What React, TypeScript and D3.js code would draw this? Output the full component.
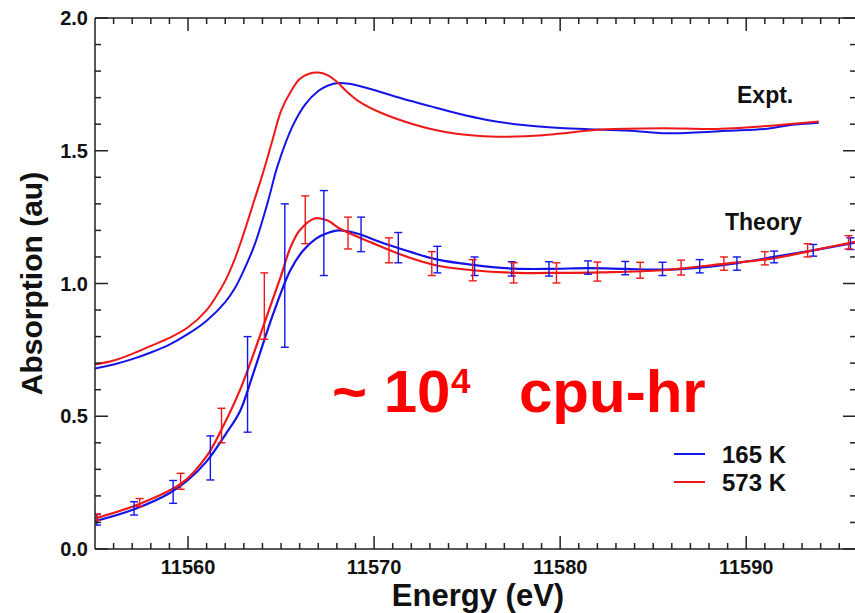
import React from "react";
import * as d3 from "d3";

// ---------- data ----------
const exptBlueE = [11555, 11556, 11557, 11558, 11559, 11560, 11561, 11562, 11562.5, 11563, 11563.6, 11564.3, 11564.8, 11565.6, 11566.3, 11567, 11567.5, 11568.1, 11569, 11570.3, 11571.5, 11573, 11574.5, 11576, 11578, 11580, 11582, 11584, 11585.5, 11587, 11589, 11591, 11592.3, 11593.9];
const exptBlueV = [0.68, 0.695, 0.715, 0.74, 0.77, 0.81, 0.86, 0.93, 0.98, 1.05, 1.15, 1.31, 1.44, 1.59, 1.675, 1.725, 1.745, 1.755, 1.748, 1.722, 1.697, 1.668, 1.64, 1.617, 1.597, 1.586, 1.58, 1.574, 1.566, 1.568, 1.575, 1.582, 1.596, 1.605];

const exptRedE = [11555, 11556, 11557, 11558, 11559, 11560, 11561, 11561.5, 11562, 11562.5, 11563, 11563.5, 11564, 11564.5, 11565, 11565.5, 11566, 11566.5, 11567, 11567.5, 11568, 11568.5, 11569.2, 11570.3, 11572.1, 11573.9, 11576.6, 11579.3, 11582.2, 11585.5, 11588.2, 11590.9, 11593.9];
const exptRedV = [0.695, 0.71, 0.735, 0.765, 0.795, 0.835, 0.9, 0.95, 1.01, 1.09, 1.19, 1.3, 1.41, 1.53, 1.65, 1.72, 1.77, 1.79, 1.795, 1.785, 1.76, 1.725, 1.685, 1.645, 1.6, 1.57, 1.553, 1.56, 1.58, 1.585, 1.582, 1.592, 1.61];

const theoBlueE = [11555, 11557, 11559, 11560, 11561, 11562, 11562.8, 11563.5, 11564.6, 11565.5, 11566.2, 11566.9, 11567.5, 11568.1, 11569, 11570, 11571, 11572, 11573.3, 11575.3, 11577.5, 11579.5, 11581.5, 11583.5, 11585.5, 11587.5, 11589.5, 11591.5, 11593.6, 11595.9];
const theoBlueV = [0.105, 0.147, 0.21, 0.26, 0.33, 0.43, 0.52, 0.66, 0.89, 1.05, 1.125, 1.17, 1.19, 1.2, 1.19, 1.165, 1.14, 1.118, 1.092, 1.07, 1.056, 1.055, 1.058, 1.055, 1.052, 1.06, 1.077, 1.1, 1.125, 1.155];

const theoRedE = [11555, 11557.4, 11559.7, 11561, 11561.8, 11562.8, 11564.2, 11565, 11565.5, 11566, 11566.8, 11567.5, 11568.2, 11569.9, 11571.8, 11573.5, 11575.3, 11577.7, 11580, 11582.2, 11585.5, 11588.9, 11591.3, 11593.6, 11595.9];
const theoRedV = [0.115, 0.17, 0.25, 0.35, 0.45, 0.6, 0.87, 1.03, 1.135, 1.2, 1.245, 1.237, 1.205, 1.153, 1.1, 1.066, 1.05, 1.04, 1.04, 1.042, 1.05, 1.075, 1.093, 1.125, 1.158];

const barBlueE = [11555.1, 11557.1, 11559.2, 11561.2, 11563.2, 11565.2, 11567.3, 11569.3, 11571.3, 11573.4, 11575.4, 11577.4, 11579.4, 11581.5, 11583.5, 11585.5, 11587.5, 11589.5, 11591.5, 11593.6, 11595.6];
const barBlueV = [0.11, 0.153, 0.215, 0.343, 0.62, 1.03, 1.19, 1.185, 1.135, 1.09, 1.065, 1.055, 1.055, 1.06, 1.058, 1.055, 1.065, 1.075, 1.1, 1.125, 1.15];
const barBlueErr = [0.02, 0.025, 0.043, 0.083, 0.18, 0.27, 0.16, 0.065, 0.057, 0.05, 0.035, 0.027, 0.027, 0.025, 0.025, 0.025, 0.025, 0.025, 0.022, 0.022, 0.022];

const barRedE = [11555.1, 11557.4, 11559.6, 11561.8, 11564.1, 11566.3, 11568.6, 11570.8, 11573.1, 11575.3, 11577.5, 11579.8, 11582.0, 11584.3, 11586.5, 11588.8, 11591.0, 11593.3, 11595.5];
const barRedV = [0.12, 0.175, 0.255, 0.465, 0.915, 1.24, 1.19, 1.125, 1.075, 1.05, 1.04, 1.04, 1.045, 1.05, 1.06, 1.075, 1.095, 1.125, 1.155];
const barRedErr = [0.012, 0.015, 0.03, 0.065, 0.125, 0.09, 0.06, 0.047, 0.045, 0.04, 0.038, 0.038, 0.036, 0.03, 0.028, 0.025, 0.025, 0.025, 0.025];

const xMajorTicks = [11560, 11570, 11580, 11590];
const yMajorTicks = [0, 0.5, 1.0, 1.5, 2.0];
const legendLabels = ["165 K", "573 K"];

// ---------- layout ----------
const W = 855;
const H = 613;
const BLUE = "#1414e6";
const RED = "#ee1818";
const FONT = "'Liberation Sans', Arial, Helvetica, sans-serif";

export default function App() {
  const x = d3.scaleLinear().domain([11555, 11595.9]).range([95, 856]);
  const y = d3.scaleLinear().domain([0, 2]).range([549, 18]);
  const line = d3
    .line<[number, number]>()
    .x((d) => x(d[0]))
    .y((d) => y(d[1]))
    .curve(d3.curveCatmullRom.alpha(0.5));
  const zip = (a: number[], b: number[]) => a.map((v, i) => [v, b[i]] as [number, number]);

  const x0 = x.range()[0];
  const x1 = x.range()[1];
  const y0 = y.range()[0];
  const y1 = y.range()[1];

  const xMinor = d3.range(11556, 11596, 1).filter((v) => v % 10 !== 0);
  const yMinor = d3.range(1, 20).map((v) => v / 10).filter((v) => Math.round(v * 10) % 5 !== 0);

  const bars = (E: number[], V: number[], Err: number[], color: string) =>
    E.map((e, i) => {
      const cx = x(e);
      const top = y(V[i] + Err[i]);
      const bot = y(V[i] - Err[i]);
      return (
        <g key={color + i} stroke={color} strokeWidth={1.4}>
          <line x1={cx} x2={cx} y1={top} y2={bot} />
          <line x1={cx - 4} x2={cx + 4} y1={top} y2={top} />
          <line x1={cx - 4} x2={cx + 4} y1={bot} y2={bot} />
        </g>
      );
    });

  const axisColor = "#222";

  return (
    <svg
      width={W}
      height={H}
      style={{ position: "absolute", left: 0, top: 0, background: "#fff" }}
      fontFamily={FONT}
    >
      <defs>
        <clipPath id="plot">
          <rect x={x0} y={y1} width={x1 - x0} height={y0 - y1} />
        </clipPath>
      </defs>
      <rect x={0} y={0} width={W} height={H} fill="#fff" />

      <g clipPath="url(#plot)" fill="none">
        <path d={line(zip(exptBlueE, exptBlueV)) || ""} stroke={BLUE} strokeWidth={2} />
        <path d={line(zip(exptRedE, exptRedV)) || ""} stroke={RED} strokeWidth={2} />
        <path d={line(zip(theoBlueE, theoBlueV)) || ""} stroke={BLUE} strokeWidth={2.2} />
        <path d={line(zip(theoRedE, theoRedV)) || ""} stroke={RED} strokeWidth={2.2} />
        {bars(barBlueE, barBlueV, barBlueErr, BLUE)}
        {bars(barRedE, barRedV, barRedErr, RED)}
      </g>

      {/* axes frame */}
      <g stroke={axisColor} strokeWidth={1.5} fill="none">
        <line x1={x0} x2={x1} y1={y0} y2={y0} />
        <line x1={x0} x2={x1} y1={y1} y2={y1} />
        <line x1={x0} x2={x0} y1={y0} y2={y1} />
        <line x1={x1} x2={x1} y1={y0} y2={y1} />
        {xMajorTicks.map((t) => (
          <g key={"xm" + t}>
            <line x1={x(t)} x2={x(t)} y1={y0} y2={y0 - 13} />
            <line x1={x(t)} x2={x(t)} y1={y1} y2={y1 + 13} />
          </g>
        ))}
        {xMinor.map((t) => (
          <g key={"xn" + t}>
            <line x1={x(t)} x2={x(t)} y1={y0} y2={y0 - 6} />
            <line x1={x(t)} x2={x(t)} y1={y1} y2={y1 + 6} />
          </g>
        ))}
        {yMajorTicks.map((t) => (
          <g key={"ym" + t}>
            <line x1={x0} x2={x0 + 13} y1={y(t)} y2={y(t)} />
            <line x1={x1} x2={x1 - 13} y1={y(t)} y2={y(t)} />
          </g>
        ))}
        {yMinor.map((t) => (
          <g key={"yn" + t}>
            <line x1={x0} x2={x0 + 6} y1={y(t)} y2={y(t)} />
            <line x1={x1} x2={x1 - 6} y1={y(t)} y2={y(t)} />
          </g>
        ))}
      </g>

      {/* tick labels */}
      <g fontWeight="bold" fontSize={20} fill="#111">
        {xMajorTicks.map((t) => (
          <text key={"xl" + t} x={x(t)} y={574} textAnchor="middle">
            {t}
          </text>
        ))}
        {yMajorTicks.map((t) => (
          <text key={"yl" + t} x={88} y={y(t) + 7} textAnchor="end">
            {t.toFixed(1)}
          </text>
        ))}
      </g>

      {/* axis titles */}
      <text x={478} y={606} textAnchor="middle" fontWeight="bold" fontSize={31} fill="#111">
        Energy (eV)
      </text>
      <text
        transform={`translate(42, ${(y0 + y1) / 2}) rotate(-90)`}
        textAnchor="middle"
        fontWeight="bold"
        fontSize={30}
        fill="#111"
      >
        Absorption (au)
      </text>

      {/* annotations */}
      <g fontWeight="bold" fontSize={23} fill="#111">
        <text x={737} y={103}>Expt.</text>
        <text x={725} y={230}>Theory</text>
      </g>

      <g fontWeight="bold" fill="#ff0000">
        <text x={332} y={412} fontSize={60}>~ 10</text>
        <text x={451} y={393} fontSize={35}>4</text>
        <text x={519} y={412} fontSize={60}>cpu-hr</text>
      </g>

      {/* legend */}
      <g>
        {legendLabels.map((lab, i) => (
          <g key={lab}>
            <line x1={674} x2={705} y1={454 + i * 28} y2={454 + i * 28} stroke={i === 0 ? BLUE : RED} strokeWidth={2} />
            <text x={722} y={463 + i * 28} fontWeight="bold" fontSize={24} fill="#111">
              {lab}
            </text>
          </g>
        ))}
      </g>
    </svg>
  );
}
